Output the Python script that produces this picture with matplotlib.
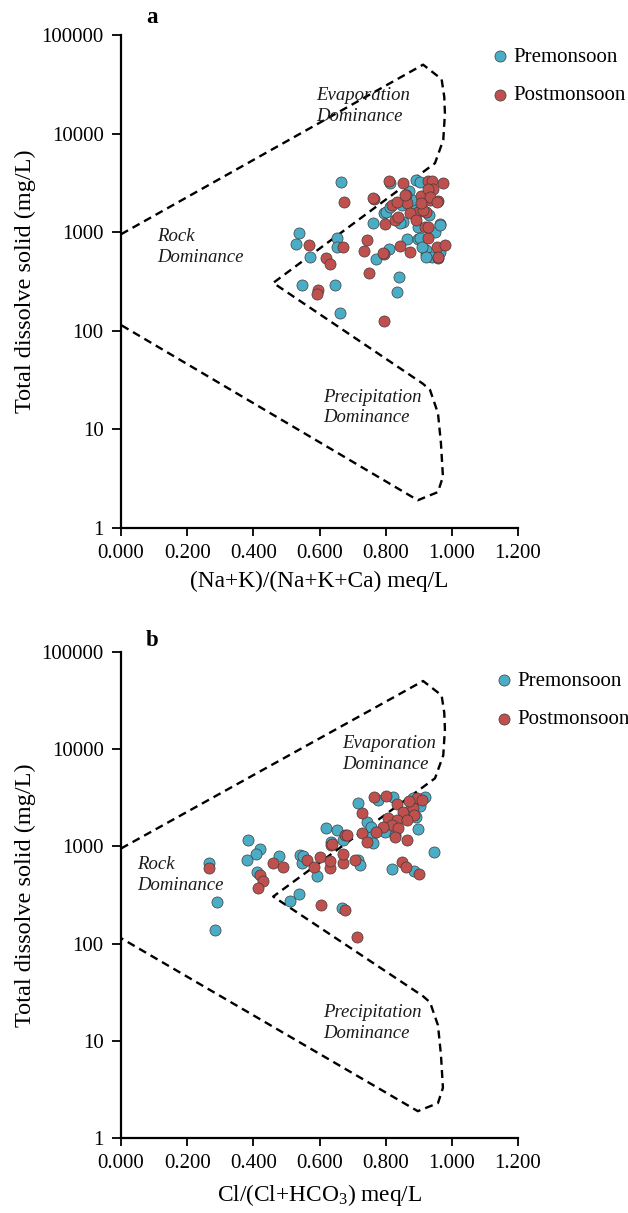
import numpy as np
import matplotlib
matplotlib.use('Agg')
import matplotlib.pyplot as plt

plt.rcParams['font.family'] = ['Liberation Serif', 'DejaVu Serif']
plt.rcParams['mathtext.fontset'] = 'custom'
plt.rcParams['mathtext.rm'] = 'Liberation Serif'

# Gibbs boundary (x ratio, TDS mg/L)
boundary_x = [0.0, 0.913, 0.969, 0.977, 0.979, 0.974, 0.949, 0.46,
              0.912, 0.934, 0.958, 0.967, 0.973, 0.958, 0.897, 0.0]
boundary_tds = [950, 50000, 35600, 23600, 16000, 8600, 5000, 305,
                29, 25, 14.5, 7.2, 3.3, 2.3, 1.9, 114]

# panel a : (Na+K)/(Na+K+Ca)
pre_a_x = [0.665, 0.539, 0.529, 0.652, 0.653, 0.571, 0.546, 0.647, 0.662, 0.762,
           0.772, 0.811, 0.841, 0.833, 0.863, 0.898, 0.921, 0.964, 0.795, 0.893,
           0.903, 0.853, 0.898, 0.923, 0.964, 0.813, 0.802, 0.843, 0.903, 0.893,
           0.813, 0.870, 0.880, 0.850, 0.930, 0.950, 0.910, 0.940, 0.923, 0.964]
pre_a_tds = [3200, 985, 755, 875, 700, 562, 290, 290, 150, 1245,
             527, 670, 347, 245, 850, 850, 598, 1205, 1570, 3370,
             3250, 1270, 1130, 656, 630, 3120, 1610, 1225, 862, 1810,
             1810, 2600, 2100, 1900, 1500, 1000, 700, 560, 562, 1190]

post_a_x = [0.674, 0.765, 0.810, 0.853, 0.928, 0.972, 0.939, 0.569, 0.672, 0.621,
            0.631, 0.596, 0.591, 0.745, 0.734, 0.749, 0.795, 0.843, 0.873, 0.796,
            0.798, 0.828, 0.818, 0.861, 0.863, 0.838, 0.908, 0.923, 0.898, 0.918,
            0.928, 0.954, 0.979, 0.959, 0.934, 0.959, 0.944, 0.928, 0.873, 0.833,
            0.934, 0.954, 0.913, 0.893, 0.928, 0.959, 0.792, 0.762, 0.858, 0.908]
post_a_tds = [2040, 2150, 3300, 3160, 3300, 3120, 3300, 738, 700, 541,
              473, 258, 233, 830, 646, 386, 594, 721, 630, 125,
              1200, 1325, 1880, 2375, 1950, 1430, 2320, 1610, 1610, 1130,
              862, 710, 738, 541, 2110, 2080, 2750, 2750, 1550, 2040,
              2280, 2030, 1670, 1325, 1130, 562, 608, 2200, 2375, 1950]

# panel b : Cl/(Cl+HCO3)
pre_b_x = [0.267, 0.291, 0.284, 0.385, 0.420, 0.407, 0.382, 0.410, 0.477, 0.541,
           0.546, 0.591, 0.511, 0.538, 0.621, 0.652, 0.636, 0.672, 0.667, 0.717,
           0.717, 0.777, 0.823, 0.883, 0.918, 0.893, 0.742, 0.757, 0.757, 0.798,
           0.828, 0.898, 0.762, 0.551, 0.722, 0.818, 0.886, 0.946, 0.905, 0.870]
pre_b_tds = [668, 270, 138, 1160, 938, 833, 723, 548, 794, 813,
             668, 495, 276, 323, 1530, 1470, 1115, 1160, 231, 2770,
             723, 2990, 3240, 3110, 3240, 2010, 1790, 1590, 1240, 1410,
             1305, 1495, 1075, 794, 643, 580, 561, 867, 2600, 2300]

post_b_x = [0.266, 0.460, 0.489, 0.420, 0.428, 0.415, 0.563, 0.583, 0.601, 0.631,
            0.636, 0.677, 0.672, 0.707, 0.605, 0.677, 0.712, 0.727, 0.727, 0.764,
            0.801, 0.894, 0.833, 0.853, 0.883, 0.886, 0.808, 0.833, 0.863, 0.818,
            0.792, 0.838, 0.772, 0.682, 0.828, 0.863, 0.742, 0.639, 0.631, 0.672,
            0.848, 0.862, 0.900, 0.910, 0.870]
post_b_tds = [595, 668, 617, 507, 443, 376, 723, 608, 781, 595,
              1030, 1300, 678, 723, 250, 221, 118, 1360, 2180, 3240,
              3290, 3110, 2720, 2270, 2450, 2090, 1940, 1860, 1860, 1655,
              1585, 1530, 1410, 1305, 1240, 1160, 1115, 1060, 711, 834,
              695, 617, 519, 3000, 2900]

pre_color = '#4bacc6'
post_color = '#c0504d'

fig = plt.figure(figsize=(6.28, 12.13), dpi=100)
ax_a = fig.add_axes([0.1927, 0.56496, 0.6322, 0.40619])
ax_b = fig.add_axes([0.1927, 0.06158, 0.6322, 0.40116])

panels = [
    (ax_a, pre_a_x, pre_a_tds, post_a_x, post_a_tds, '(Na+K)/(Na+K+Ca) meq/L', 'a', 1.035,
     [(0.589, 19000, 'Evaporation\nDominance'), (0.108, 705, 'Rock\nDominance'),
      (0.611, 16.7, 'Precipitation\nDominance')], (0.94, 0.975)),
    (ax_b, pre_b_x, pre_b_tds, post_b_x, post_b_tds, r'Cl/(Cl+HCO$_3$) meq/L', 'b', 1.024,
     [(0.67, 8900, 'Evaporation\nDominance'), (0.049, 507, 'Rock\nDominance'),
      (0.61, 15.3, 'Precipitation\nDominance')], (0.95, 0.96)),
]

for ax, px, py, qx, qy, xlab, letter, ly, notes, leg_pos in panels:
    ax.plot(boundary_x, boundary_tds, color='black', lw=1.7, ls=(0, (3.4, 2.2)))
    ax.scatter(px, py, s=64, c=pre_color, edgecolors='#3d3d3d', linewidths=0.5,
               label='Premonsoon', zorder=3)
    ax.scatter(qx, qy, s=64, c=post_color, edgecolors='#3d3d3d', linewidths=0.5,
               label='Postmonsoon', zorder=4)

    for nx, ny, txt in notes:
        ax.text(nx, ny, txt, fontsize=13.5, style='italic', ha='left', va='center',
                linespacing=1.25, color='#1a1a1a')

    ax.set_yscale('log')
    ax.set_ylim(1, 100000)
    ax.set_xlim(0, 1.2)
    ax.set_yticks([1, 10, 100, 1000, 10000, 100000])
    ax.set_yticklabels(['1', '10', '100', '1000', '10000', '100000'])
    ax.minorticks_off()
    xt = np.arange(0, 1.21, 0.2)
    ax.set_xticks(xt)
    ax.set_xticklabels(['%.3f' % v for v in xt])
    ax.tick_params(labelsize=15, width=1.3, direction='out')
    ax.tick_params(axis='x', length=5.5, pad=6)
    ax.tick_params(axis='y', length=6.5, pad=6)
    for sp in ['top', 'right']:
        ax.spines[sp].set_visible(False)
    for sp in ['left', 'bottom']:
        ax.spines[sp].set_linewidth(1.6)
    ax.set_xlabel(xlab, fontsize=16.8, labelpad=6)
    ax.set_ylabel('Total dissolve solid (mg/L)', fontsize=17.5, labelpad=4)
    ax.text(0.078, ly, letter, transform=ax.transAxes, fontsize=16.5,
            fontweight='bold', ha='center', va='center')

    ax.legend(loc='upper left', bbox_to_anchor=leg_pos, frameon=False, fontsize=15,
              handlelength=0.6, handletextpad=0.3, labelspacing=0.9,
              borderaxespad=0, borderpad=0, markerscale=1.0)

fig.savefig('out.png', dpi=100)
